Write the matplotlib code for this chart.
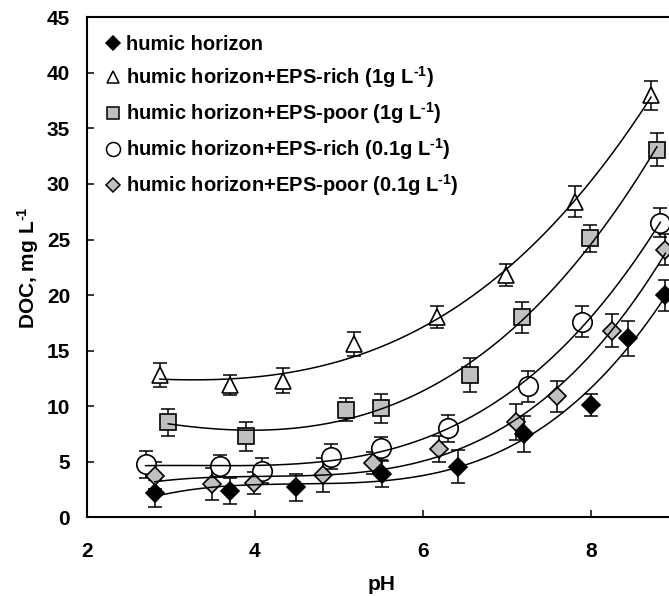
import numpy as np
import matplotlib
matplotlib.use("Agg")
import matplotlib.pyplot as plt
from matplotlib.lines import Line2D

plt.rcParams['font.family'] = ['Liberation Sans', 'DejaVu Sans']
plt.rcParams['font.weight'] = 'bold'
plt.rcParams['mathtext.fontset'] = 'custom'
plt.rcParams['mathtext.rm'] = 'Liberation Sans:bold'
plt.rcParams['mathtext.bf'] = 'Liberation Sans:bold'
plt.rcParams['mathtext.default'] = 'bf'

# data: pH, DOC (mg/L), error bar half-width
bd_ph = [2.81, 3.70, 4.49, 5.51, 6.41, 7.20, 8.00, 8.44, 8.88]
bd_y = [2.16, 2.37, 2.7, 3.9, 4.56, 7.5, 10.1, 16.1, 20.0]
bd_err = [1.2, 1.2, 1.2, 1.2, 1.5, 1.6, 1.0, 1.6, 1.4]

tri_ph = [2.87, 3.70, 4.33, 5.18, 6.17, 6.98, 7.81, 8.71]
tri_y = [12.8, 11.9, 12.3, 15.6, 18.0, 21.8, 28.4, 38.0]
tri_err = [1.1, 0.9, 1.1, 1.1, 1.0, 1.0, 1.4, 1.3]

sq_ph = [2.97, 3.90, 5.08, 5.50, 6.56, 7.18, 7.99, 8.78]
sq_y = [8.55, 7.3, 9.7, 9.8, 12.8, 18.0, 25.1, 33.1]
sq_err = [1.2, 1.3, 1.0, 1.3, 1.5, 1.4, 1.2, 1.5]

circ_ph = [2.70, 3.59, 4.09, 4.90, 5.50, 6.29, 7.25, 7.89, 8.82]
circ_y = [4.77, 4.6, 4.2, 5.46, 6.2, 8.0, 11.8, 17.6, 26.5]
circ_err = [1.2, 1.0, 1.1, 1.1, 1.0, 1.2, 1.4, 1.4, 1.3]

gd_ph = [2.81, 3.49, 3.99, 4.81, 5.41, 6.19, 7.11, 7.59, 8.25, 8.88]
gd_y = [3.75, 3.0, 3.1, 3.8, 4.86, 6.15, 8.6, 10.9, 16.8, 24.1]
gd_err = [1.2, 1.4, 1.0, 1.5, 1.0, 1.2, 1.6, 1.4, 1.5, 1.4]

unit = r'L$^{\text{-}1}$'
labels = ['humic horizon',
          'humic horizon+EPS-rich (1g ' + unit + ')',
          'humic horizon+EPS-poor (1g ' + unit + ')',
          'humic horizon+EPS-rich (0.1g ' + unit + ')',
          'humic horizon+EPS-poor (0.1g ' + unit + ')']

grey = '#c0c0c0'
series = [
    (bd_ph, bd_y, bd_err, 'D', 'black', 9.5),
    (tri_ph, tri_y, tri_err, '^', 'white', 12),
    (sq_ph, sq_y, sq_err, 's', grey, 11.5),
    (circ_ph, circ_y, circ_err, 'o', 'white', 14),
    (gd_ph, gd_y, gd_err, 'D', grey, 9.5),
]

fig = plt.figure(figsize=(6.69, 5.96), dpi=100)
ax = fig.add_axes([0.1296, 0.132, 0.88, 0.839])

handles = []
for (x, y, e, m, fc, ms), lab in zip(series, labels):
    ax.errorbar(x, y, yerr=e, fmt='none', ecolor='black', elinewidth=1.1,
                capsize=4.8, capthick=1.1, zorder=2)
    ax.plot(x, y, linestyle='none', marker=m, ms=ms, mfc=fc, mec='black',
            mew=1.2, zorder=3)
    # fitted trend curve
    coef = np.polyfit(x, y, 3)
    xs = np.linspace(min(x), max(x), 200)
    ax.plot(xs, np.polyval(coef, xs), color='black', lw=1.1, zorder=4)
    handles.append(Line2D([], [], linestyle='none', marker=m, ms=ms * 0.72,
                          mfc=fc, mec='black', mew=1.1, label=lab))

ax.set_xlim(2, 9)
ax.set_ylim(0, 45)
ax.set_xticks([2, 4, 6, 8])
ax.set_yticks(np.arange(0, 46, 5))
ax.tick_params(direction='in', length=5, width=1.1, labelsize=15, pad=12)
ax.tick_params(axis='x', pad=18)
for s in ax.spines.values():
    s.set_linewidth(1.5)

ax.set_xlabel('pH', fontsize=15, fontweight='bold', labelpad=10)
ax.set_ylabel('DOC, mg ' + unit, fontsize=15, fontweight='bold', labelpad=4)

ax.legend(handles=handles, loc='upper left', bbox_to_anchor=(0.033, 0.964),
          frameon=False, fontsize=14.5, handlelength=0.7, handletextpad=0.3,
          labelspacing=0.5, borderpad=0, borderaxespad=0)

fig.savefig('out.png', dpi=100)
